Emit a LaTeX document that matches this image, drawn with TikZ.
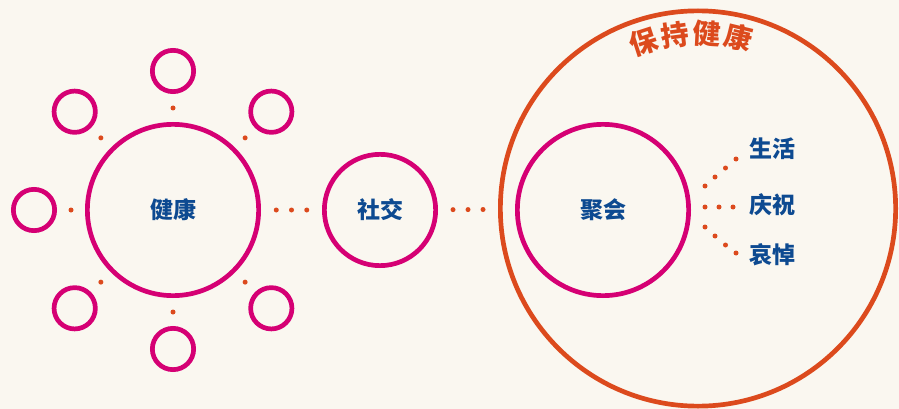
\documentclass[tikz,border=0pt]{standalone}
\usepackage{fontspec}
\newfontfamily\cjk{Noto Sans CJK SC}[BoldFont={Noto Sans CJK SC Black}]
\usetikzlibrary{calc}
\definecolor{bgc}{HTML}{FAF7F0}
\definecolor{mag}{HTML}{D50074}
\definecolor{org}{HTML}{DC4A1D}
\definecolor{blu}{HTML}{0D4A91}
\tikzset{
  ring/.style={circle,draw=mag,line width=4.7pt,inner sep=0pt},
  bigring/.style={ring,minimum size=171.3pt},
  smallring/.style={ring,minimum size=41.3pt},
  midring/.style={ring,minimum size=111.3pt},
  outerring/.style={circle,draw=org,line width=4.7pt,inner sep=0pt,minimum size=395.3pt},
  lbl/.style={text=blu,font=\cjk\bfseries\fontsize{23}{23}\selectfont,inner sep=0pt},
  ttl/.style={text=org,font=\cjk\bfseries\fontsize{28}{28}\selectfont,inner sep=0pt},
  dot/.style={circle,fill=org,inner sep=0pt,minimum size=5pt}
}
\begin{document}
\begin{tikzpicture}[x=1pt,y=-1pt]
\fill[bgc] (0,0) rectangle (899,409);
\useasboundingbox (0,0) rectangle (899,409);
% outer orange ring
\node[outerring] (o) at (698,208.5) {};
% health
\node[bigring] (h) at (173,210) {};
\node[lbl] at (h) {健康};
\foreach \a [count=\i] in {45,90,135,180,225,270,315}{
  \node[smallring] (s\i) at ($(h)+(\a:139)$) {};
  \path (h) -- node[dot]{} (s\i);
}
% social
\node[midring] (sc) at (380,210) {};
\node[lbl] at (sc) {社交};
\path (h) -- node[dot,pos=.25]{} node[dot,pos=.5]{} node[dot,pos=.75]{} (sc);
\path (sc) -- node[dot,pos=.25]{} node[dot,pos=.5]{} node[dot,pos=.75]{} (o);
% gathering
\node[bigring] (j) at (603,210) {};
\node[lbl] at (j) {聚会};
% labels
\node[lbl] (l1) at (772,149) {生活};
\node[lbl] (l2) at (772,205) {庆祝};
\node[lbl] (l3) at (772,255) {哀悼};
\foreach \x/\y in {705/186,715/177,725.5/168,736/159,705/207,719/207,733/207,705/227,715/236,725.5/245,736/253}{
  \node[dot] at (\x,\y) {};
}
% title along arc
\node[ttl,rotate=18] at ($(o)+(-108:175)$) {保};
\node[ttl,rotate=7.5] at ($(o)+(-97.5:175)$) {持};
\node[ttl,rotate=-3] at ($(o)+(-87:175.5)$) {健};
\node[ttl,rotate=-13.5] at ($(o)+(-76.5:176)$) {康};
\end{tikzpicture}
\end{document}
